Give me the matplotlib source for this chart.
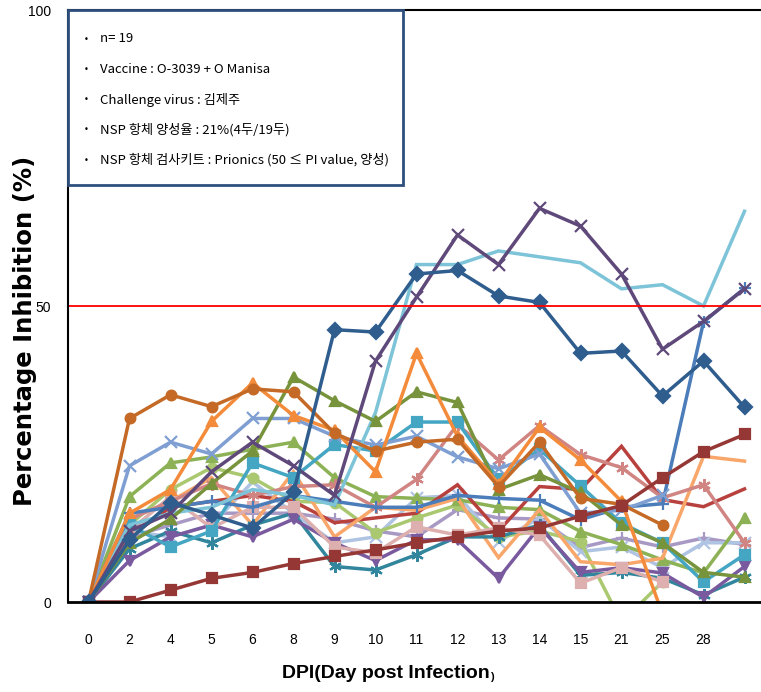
import numpy as np
import matplotlib
matplotlib.use('Agg')
import matplotlib.pyplot as plt
from matplotlib.patches import Rectangle

nan = np.nan

# x categories (DPI)
days = ['0', '2', '4', '5', '6', '8', '9', '10', '11', '12', '13', '14', '15', '21', '25', '28', '']

# PI values (%) per animal
s_dark_orange = [0, 31, 35, 33, 36, 35.5, 28.5, 25.5, 27, 27.5, 19.5, 27, 17.5, 16.5, 13, nan, nan]
s_orange_tri = [0, 15, 19, 30.5, 37, 31.5, 29, 22, 42, 28, 20, 29.5, 24, 17, -2, nan, nan]
s_olive_tri = [0, 10, 14, 20, 25.5, 38, 34, 30.5, 35.5, 33.7, 19, 21.5, 18.5, 13, 10, 5, 4.2]
s_dark_purple = [0, 12, 15, 22, 27, 23, 18, 40.7, 51.5, 62, 57, 66.5, 63.5, 55.4, 42.7, 47.4, 52.9]
s_dark_blue = [0, 10.5, 16.8, 14.7, 12.5, 18.5, 46, 45.6, 55.4, 56, 51.7, 50.6, 42, 42.4, 34.8, 40.7, 32.9]
s_light_aqua = [0, 13, 15, 16, 19, 18, 16.4, 32, 57, 57, 59.3, 58.3, 57.3, 52.9, 53.6, 50, 66]
s_blue_plus = [0, 15, 16, 17, 16, 18, 17, 16, 16, 18, 17.5, 17.2, 13.9, 16, 16.6, 47.3, 53]
s_steel_x = [0, 23, 27, 25, 31, 31, 28, 26.5, 28, 24.5, 22.5, 25, 15, 15.5, 18, nan, nan]
s_dark_red_sq = [0, 0, 2, 4, 5, 6.5, 7.7, 8.8, 10, 11, 12, 12.5, 14.5, 16.3, 21, 25.4, 28.3]
s_red = [0, 11, 16, 17, 18, 17, 13.4, 14.2, 15, 19.8, 12, 19.5, 19, 26.3, 17.3, 16.1, 19.1]
s_teal_star = [0, 9, 12, 10, 13, 15, 6, 5.4, 8, 11, 11, 13, 4.5, 5, 4, 1.2, 4.2]
s_purple = [0, 7, 11, 13, 11, 14, 10, 7, 10.5, 10.5, 4, 12.7, 5, 5.8, 4.9, 0.8, 6]
s_pink_sq = [0, 12, 17.8, 12.5, 16, 16, 9.3, 8.3, 12.7, 11.3, 12.5, 11.3, 3.2, 5.8, 3.4, nan, nan]
s_pink_star = [0, 14, 17, 20, 18, 19.5, 19.8, 16, 20.7, 30, 24, 29.8, 24.9, 22.7, 17.6, 19.8, 10]
s_aqua_sq = [0, 13, 9.3, 12, 23.5, 21, 26.6, 25.5, 30.4, 30.4, 20.7, 25.8, 19.6, 13.3, 10, 3.4, 8]
s_light_orange = [0, 14, 17, 21, 13, 22, 11, 16, 15.5, 17.5, 7.5, 15.6, 6.8, 6.3, 7.4, 24.6, 23.8]
s_light_green = [0, 13, 19, 22.7, 21, 17, 16.8, 11.7, 14.2, 16.4, 11, 12, 10.2, -3.4, 3.4, nan, nan]
s_green_tri = [0, 17.8, 23.5, 24.5, 25.8, 27, 21, 17.8, 17.5, 17.3, 16, 15.6, 11.9, 9.7, 7.1, 4.9, 14.2]
s_lavender = [0, 11, 13, 15, 15, 15, 14, 12, 11, 15.6, 14.2, 14, 9.2, 10.8, 9.3, 10.8, 9.7]
s_pale_blue = [0, 12, 11, 13, 20.3, 15, 10, 11, 17.6, 18, 10.2, 14.2, 8.5, 9.3, 5.8, 10, 10]

notes = ['n= 19',
         'Vaccine : O-3039 + O Manisa',
         'Challenge virus : 김제주',
         'NSP 항체 양성율 : 21%(4두/19두)',
         'NSP 항체 검사키트 : Prionics (50 ≤ PI value, 양성)']

asterisk = (6, 2, 0)

# (data, colour, marker)
series = [
    (s_lavender, '#A899C4', '+'),
    (s_pale_blue, '#AFC3E3', 'x'),
    (s_light_green, '#A9C86F', 'o'),
    (s_green_tri, '#8DB255', '^'),
    (s_red, '#B8413E', None),
    (s_light_orange, '#F9A66A', None),
    (s_teal_star, '#31859C', asterisk),
    (s_purple, '#7A5A9E', 'v'),
    (s_pink_sq, '#DDAFAE', 's'),
    (s_pink_star, '#D18583', asterisk),
    (s_aqua_sq, '#44A6C2', 's'),
    (s_blue_plus, '#4A7DBA', '+'),
    (s_steel_x, '#7F9FD3', 'x'),
    (s_light_aqua, '#7DC4D8', None),
    (s_olive_tri, '#77933C', '^'),
    (s_orange_tri, '#F38B3A', '^'),
    (s_dark_orange, '#C46A26', 'o'),
    (s_dark_red_sq, '#953735', 's'),
    (s_dark_purple, '#5F497A', 'x'),
    (s_dark_blue, '#2F5D8E', 'D'),
]

fig = plt.figure(figsize=(7.61, 6.92), dpi=100)
ax = fig.add_axes([68 / 761, 90 / 692, 697 / 761, 592 / 692])

xpos = np.arange(len(days))
for vals, col, mk in series:
    ms = 7
    if mk in ('x', '+', asterisk):
        ms = 9
    ax.plot(xpos, vals, color=col, lw=2.5, marker=mk, ms=ms,
            mew=1.6, mec=col, mfc=col, solid_joinstyle='miter')

ax.axhline(50, color='#FF0000', lw=1.3)

tick_font = ['Liberation Sans', 'DejaVu Sans']
ax.set_xlim(-0.5, len(days) - 0.5)
ax.set_ylim(0, 100)
ax.set_yticks([0, 50, 100])
ax.set_yticklabels(['0', '50', '100'], family=tick_font, fontsize=10)
ax.set_xticks(xpos)
ax.set_xticklabels(days, family=tick_font, fontsize=10)
ax.tick_params(axis='both', length=0)
ax.tick_params(axis='x', pad=22)
ax.tick_params(axis='y', pad=12)
ax.spines['right'].set_visible(False)
ax.spines['bottom'].set_linewidth(2)
ax.spines['left'].set_linewidth(1.5)
ax.spines['top'].set_linewidth(1.5)

fig.text(25 / 761, 1 - 331 / 692, 'Percentage Inhibition (%)', rotation=90,
         ha='center', va='center', fontsize=17.5, fontweight='bold', family='DejaVu Sans')
t = fig.text(386 / 761, 1 - 674 / 692, 'DPI(Day post Infection', ha='center', va='center',
             fontsize=14, fontweight='bold', family=['Liberation Sans', 'DejaVu Sans'])
ax.annotate(')', xy=(1, 0.05), xycoords=t, fontsize=8, fontweight='bold', va='bottom',
            family=['Liberation Sans', 'DejaVu Sans'])

# note box
box = Rectangle((68 / 761, 1 - 185 / 692), 335 / 761, 175 / 692, transform=fig.transFigure,
                facecolor='white', edgecolor='#2E4F7E', lw=2, zorder=5)
fig.add_artist(box)
for i, s in enumerate(notes):
    y = 1 - (39 + 30.3 * i) / 692
    fig.text(86 / 761, y, '•', fontsize=6, ha='center', va='center', zorder=6)
    fig.text(100 / 761, y, s, fontsize=9.5, ha='left', va='center', zorder=6,
             family=['Noto Sans CJK KR', 'DejaVu Sans'])

fig.savefig('out.png', dpi=100)
